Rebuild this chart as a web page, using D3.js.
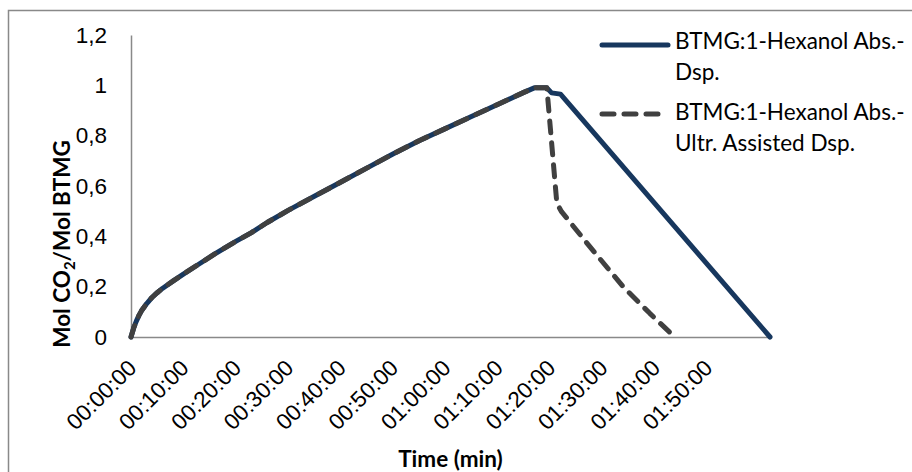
<!DOCTYPE html>
<html>
<head>
<meta charset="utf-8">
<script src="https://cdn.jsdelivr.net/npm/d3@7"></script>
<style>
  html, body { margin: 0; padding: 0; background: #fff; }
  svg { display: block; font-family: Lato, "Open Sans", sans-serif; }
</style>
</head>
<body>
<svg id="chart" width="912" height="472"></svg>
<script>
// absorption phase, shared by both runs (minutes, mol CO2 / mol BTMG)
const absTime = [0, 0.5, 1, 1.5, 2, 3, 4, 5, 6, 8, 10, 13, 16, 20, 23, 26, 30, 35, 40, 45, 50, 55, 60, 65, 70, 75, 77, 79.4];
const absValue = [0, 0.035, 0.062, 0.085, 0.104, 0.133, 0.157, 0.176, 0.193, 0.222, 0.25, 0.29, 0.33, 0.38, 0.415, 0.455, 0.503, 0.559, 0.615, 0.671, 0.727, 0.78, 0.828, 0.876, 0.924, 0.972, 0.99, 0.99];

// desorption, plain
const dspTime = [79.4, 80.3, 82, 122];
const dspValue = [0.99, 0.97, 0.965, 0];

// desorption, ultrasound assisted
const ultTime = [79.4, 81.3, 82.2, 87.6, 93.95, 99.05, 103.8];
const ultValue = [0.99, 0.532, 0.498, 0.359, 0.2, 0.094, 0];

const seriesNames = ['BTMG:1-Hexanol Abs.-', 'Dsp.', 'BTMG:1-Hexanol Abs.-', 'Ultr. Assisted Dsp.'];
const xTicks = [0, 10, 20, 30, 40, 50, 60, 70, 80, 90, 100, 110];
const yTicks = [0, 0.2, 0.4, 0.6, 0.8, 1, 1.2];

const svg = d3.select('#chart');
const axisColor = '#898989';
const solidColor = '#17375e';
const dashColor = '#404040';
const fontSize = 22.5;

// only the top and left edges of the chart frame are inside the picture
svg.append('path')
    .attr('d', 'M8.5,472V10.5H912')
    .attr('fill', 'none')
    .attr('stroke', axisColor)
    .attr('stroke-width', 1.5);

const x = d3.scaleLinear().domain([0, 122]).range([131, 770]);
const y = d3.scaleLinear().domain([0, 1.2]).range([337, 35]);

const pad = n => String(n).padStart(2, '0');
const hms = m => `${pad(Math.floor(m / 60))}:${pad(m % 60)}:00`;
const comma = v => String(+v.toFixed(1)).replace('.', ',');

// y axis
const yAxis = svg.append('g')
    .attr('transform', `translate(${x(0)},0)`)
    .call(d3.axisLeft(y).tickValues(yTicks).tickFormat(comma).tickSize(0).tickSizeOuter(0).tickPadding(24));
yAxis.select('.domain').attr('stroke', axisColor).attr('stroke-width', 1.5);
yAxis.selectAll('text').attr('font-size', fontSize).attr('font-family', null).attr('fill', '#000');

// x axis
const xAxis = svg.append('g')
    .attr('transform', `translate(0,${y(0)})`)
    .call(d3.axisBottom(x).tickValues(xTicks).tickFormat(hms).tickSize(0).tickSizeOuter(0));
xAxis.select('.domain').attr('stroke', axisColor).attr('stroke-width', 1.5);
xAxis.selectAll('text')
    .attr('y', null)
    .attr('dy', null)
    .attr('font-size', fontSize)
    .attr('font-family', null)
    .attr('fill', '#000')
    .attr('text-anchor', 'end')
    .attr('dominant-baseline', 'central')
    .attr('transform', 'translate(1,27) rotate(-45)');

// titles
svg.append('text')
    .attr('x', x(61))
    .attr('y', 467)
    .attr('text-anchor', 'middle')
    .attr('font-size', fontSize)
    .attr('font-weight', 'bold')
    .text('Time (min)');

const yTitle = svg.append('text')
    .attr('transform', 'translate(70,244) rotate(-90)')
    .attr('text-anchor', 'middle')
    .attr('font-size', fontSize)
    .attr('font-weight', 'bold');
yTitle.append('tspan').text('Mol CO');
yTitle.append('tspan').attr('font-size', 15).attr('dy', 5).text('2');
yTitle.append('tspan').attr('dy', -5).text('/Mol BTMG');

// lines
const line = d3.line().x(d => x(d[0])).y(d => y(d[1]));
const solidData = d3.zip(absTime.concat(dspTime.slice(1)), absValue.concat(dspValue.slice(1)));
const dashData = d3.zip(absTime.concat(ultTime.slice(1)), absValue.concat(ultValue.slice(1)));

svg.append('path')
    .datum(solidData)
    .attr('d', line)
    .attr('fill', 'none')
    .attr('stroke', solidColor)
    .attr('stroke-width', 5)
    .attr('stroke-linejoin', 'round')
    .attr('stroke-linecap', 'round');

svg.append('path')
    .datum(dashData)
    .attr('d', line)
    .attr('fill', 'none')
    .attr('stroke', dashColor)
    .attr('stroke-width', 5)
    .attr('stroke-linejoin', 'round')
    .attr('stroke-linecap', 'round')
    .attr('stroke-dasharray', '12,10');

// legend
const legend = svg.append('g');
const entries = [
  { y: 45, dash: null, color: solidColor, lines: seriesNames.slice(0, 2), base: 49 },
  { y: 114, dash: '12,10', color: dashColor, lines: seriesNames.slice(2, 4), base: 120 },
];
entries.forEach(e => {
  legend.append('line')
      .attr('x1', 602).attr('x2', 668)
      .attr('y1', e.y).attr('y2', e.y)
      .attr('stroke', e.color)
      .attr('stroke-width', 5)
      .attr('stroke-linecap', 'round')
      .attr('stroke-dasharray', e.dash);
  e.lines.forEach((t, i) => {
    legend.append('text')
        .attr('x', 675)
        .attr('y', e.base + i * 31)
        .attr('font-size', fontSize)
        .text(t);
  });
});
</script>
</body>
</html>
